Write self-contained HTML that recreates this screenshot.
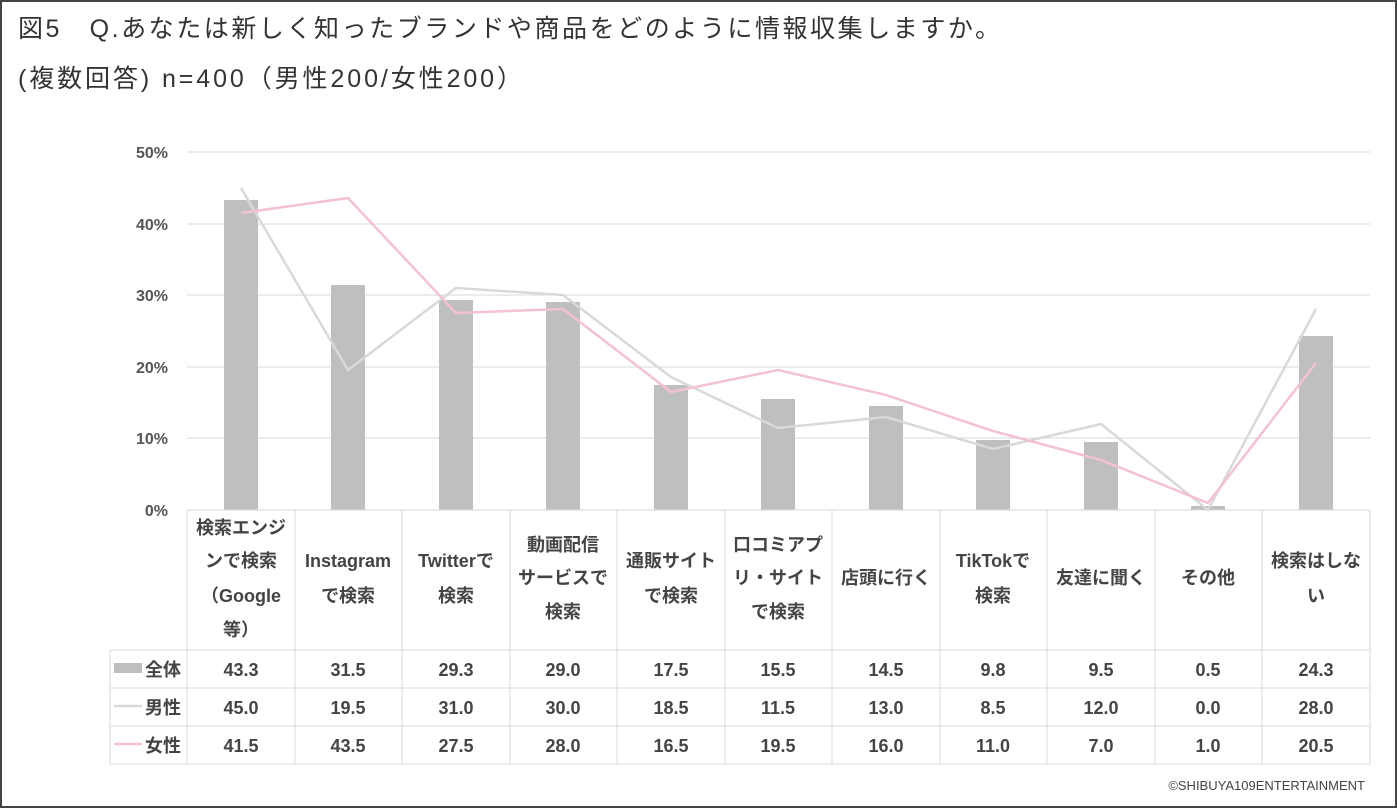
<!DOCTYPE html><html><head><meta charset="utf-8"><style>
body{margin:0;background:#fff}
svg{display:block;font-family:"Liberation Sans","Noto Sans CJK JP",sans-serif}
</style></head><body>
<svg width="1397" height="808" viewBox="0 0 1397 808">
<rect x="1" y="1" width="1395" height="806" fill="#fff" stroke="#444" stroke-width="2"/>
<text x="18" y="37" font-size="25" fill="#333" textLength="982" lengthAdjust="spacing">図5　Q.あなたは新しく知ったブランドや商品をどのように情報収集しますか。</text>
<text x="18" y="87" font-size="25" fill="#333" textLength="504" lengthAdjust="spacing">(複数回答) n=400（男性200/女性200）</text>
<g stroke="#d9d9d9" stroke-width="1">
<line x1="187" y1="152" x2="1370" y2="152"/><line x1="187" y1="224" x2="1370" y2="224"/>
<line x1="187" y1="295" x2="1370" y2="295"/><line x1="187" y1="367" x2="1370" y2="367"/>
<line x1="187" y1="438" x2="1370" y2="438"/>
</g>
<g font-size="16" font-weight="bold" fill="#555" text-anchor="end">
<text x="168" y="158">50%</text><text x="168" y="230">40%</text><text x="168" y="301">30%</text>
<text x="168" y="373">20%</text><text x="168" y="444">10%</text><text x="168" y="516">0%</text>
</g>
<g fill="#bfbfbf">
<rect x="224" y="200" width="34" height="310"/><rect x="331" y="285" width="34" height="225"/>
<rect x="439" y="300" width="34" height="210"/><rect x="546" y="302" width="34" height="208"/>
<rect x="654" y="385" width="34" height="125"/><rect x="761" y="399" width="34" height="111"/>
<rect x="869" y="406" width="34" height="104"/><rect x="976" y="440" width="34" height="70"/>
<rect x="1084" y="442" width="34" height="68"/><rect x="1191" y="506" width="34" height="4"/>
<rect x="1299" y="336" width="34" height="174"/>
</g>
<polyline fill="none" stroke="#d9d9d9" stroke-width="2.5" points="241,188 348,370 456,288 563,295 671,377 778,428 886,417 993,449 1101,424 1208,510 1316,309"/>
<polyline fill="none" stroke="#f4c2cf" stroke-width="2.5" points="241,213 348,198 456,313 563,309 671,392 778,370 886,395 993,431 1101,460 1208,503 1316,363"/>
<g stroke="#d9d9d9" stroke-width="1" fill="none">
<line x1="187" y1="510" x2="1370" y2="510"/>
<line x1="110" y1="650" x2="1370" y2="650"/><line x1="110" y1="688" x2="1370" y2="688"/>
<line x1="110" y1="726" x2="1370" y2="726"/><line x1="110" y1="764" x2="1370" y2="764"/>
<line x1="110" y1="650" x2="110" y2="764"/>
<line x1="187" y1="510" x2="187" y2="764"/><line x1="295" y1="510" x2="295" y2="764"/>
<line x1="402" y1="510" x2="402" y2="764"/><line x1="510" y1="510" x2="510" y2="764"/>
<line x1="617" y1="510" x2="617" y2="764"/><line x1="725" y1="510" x2="725" y2="764"/>
<line x1="832" y1="510" x2="832" y2="764"/><line x1="940" y1="510" x2="940" y2="764"/>
<line x1="1047" y1="510" x2="1047" y2="764"/><line x1="1155" y1="510" x2="1155" y2="764"/>
<line x1="1262" y1="510" x2="1262" y2="764"/><line x1="1370" y1="510" x2="1370" y2="764"/>
</g>
<g font-size="18" font-weight="bold" fill="#444" text-anchor="middle">
<text x="241" y="534">検索エンジ</text><text x="241" y="567">ンで検索</text><text x="241" y="602">（Google</text><text x="241" y="636">等）</text>
<text x="348" y="567">Instagram</text><text x="348" y="602">で検索</text>
<text x="456" y="567">Twitterで</text><text x="456" y="602">検索</text>
<text x="563" y="551">動画配信</text><text x="563" y="584">サービスで</text><text x="563" y="618">検索</text>
<text x="671" y="567">通販サイト</text><text x="671" y="602">で検索</text>
<text x="778" y="551">口コミアプ</text><text x="778" y="584">リ・サイト</text><text x="778" y="618">で検索</text>
<text x="886" y="584">店頭に行く</text>
<text x="993" y="567">TikTokで</text><text x="993" y="602">検索</text>
<text x="1101" y="584">友達に聞く</text>
<text x="1208" y="584">その他</text>
<text x="1316" y="567">検索はしな</text><text x="1316" y="602">い</text>
</g>
<rect x="114" y="663" width="28" height="10" fill="#bfbfbf"/>
<line x1="114" y1="706" x2="142" y2="706" stroke="#d9d9d9" stroke-width="2.5"/>
<line x1="114" y1="744" x2="142" y2="744" stroke="#f4c2cf" stroke-width="2.5"/>
<g font-size="18" font-weight="bold" fill="#444">
<text x="145" y="676">全体</text><text x="145" y="714">男性</text><text x="145" y="752">女性</text>
</g>
<g font-size="18" font-weight="bold" fill="#444" text-anchor="middle">
<text x="241" y="676">43.3</text><text x="348" y="676">31.5</text><text x="456" y="676">29.3</text><text x="563" y="676">29.0</text><text x="671" y="676">17.5</text><text x="778" y="676">15.5</text><text x="886" y="676">14.5</text><text x="993" y="676">9.8</text><text x="1101" y="676">9.5</text><text x="1208" y="676">0.5</text><text x="1316" y="676">24.3</text>
<text x="241" y="714">45.0</text><text x="348" y="714">19.5</text><text x="456" y="714">31.0</text><text x="563" y="714">30.0</text><text x="671" y="714">18.5</text><text x="778" y="714">11.5</text><text x="886" y="714">13.0</text><text x="993" y="714">8.5</text><text x="1101" y="714">12.0</text><text x="1208" y="714">0.0</text><text x="1316" y="714">28.0</text>
<text x="241" y="752">41.5</text><text x="348" y="752">43.5</text><text x="456" y="752">27.5</text><text x="563" y="752">28.0</text><text x="671" y="752">16.5</text><text x="778" y="752">19.5</text><text x="886" y="752">16.0</text><text x="993" y="752">11.0</text><text x="1101" y="752">7.0</text><text x="1208" y="752">1.0</text><text x="1316" y="752">20.5</text>
</g>
<text x="1365" y="790" font-size="13" fill="#444" text-anchor="end">©SHIBUYA109ENTERTAINMENT</text>
</svg>
</body></html>
